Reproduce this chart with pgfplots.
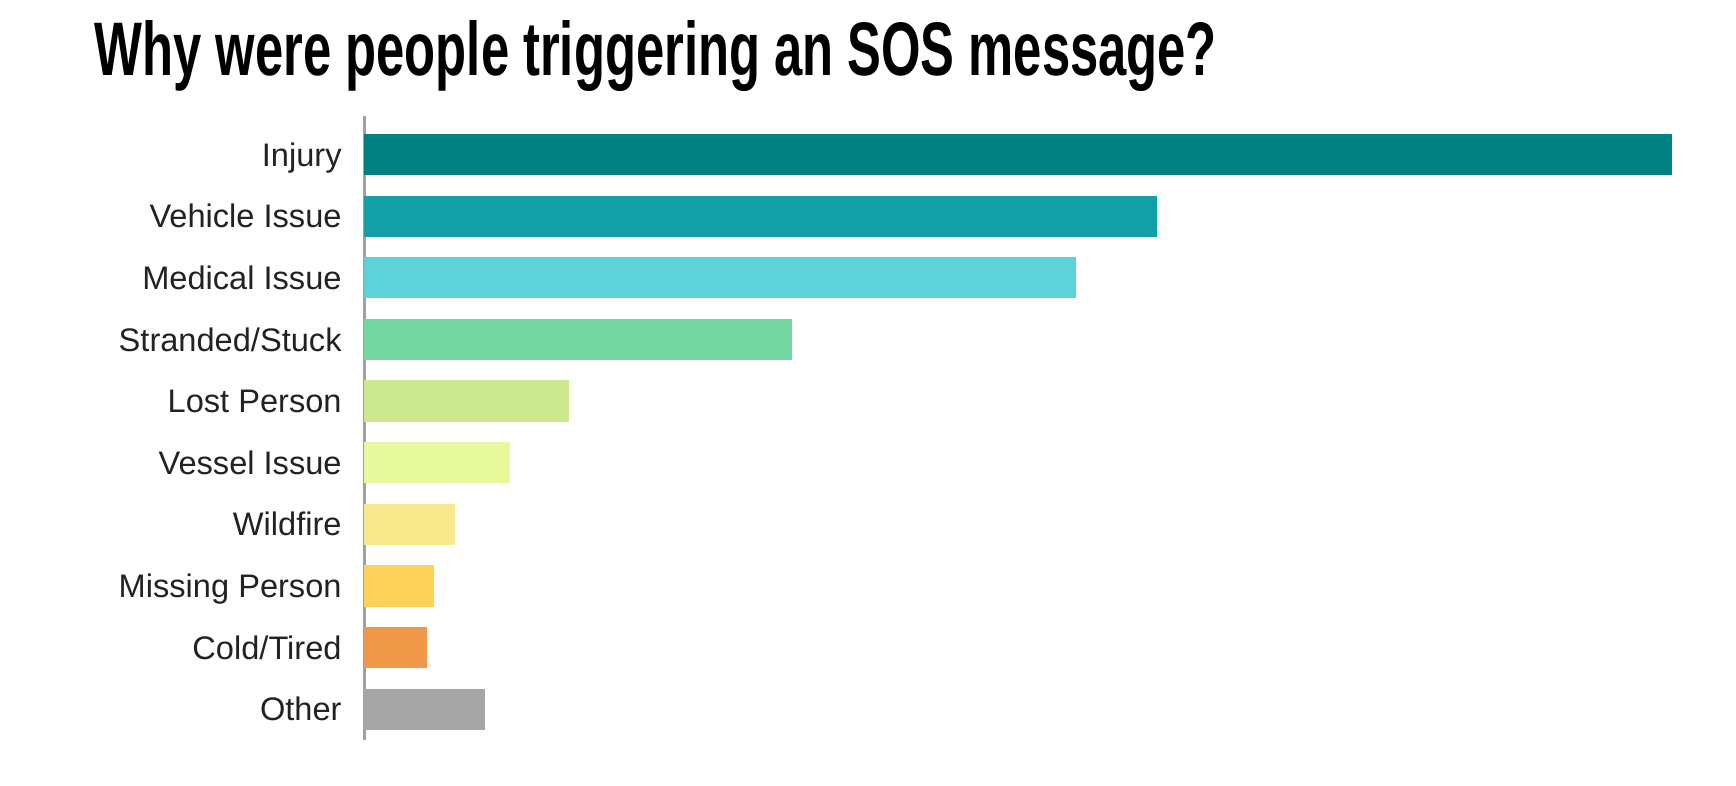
\documentclass[border=0pt]{standalone}
\usepackage{pgfplots}
\pgfplotsset{compat=1.18}
\usepackage{fontspec}
\setmainfont{Liberation Sans}
\definecolor{cInj}{HTML}{008080}
\definecolor{cVeh}{HTML}{12A0A6}
\definecolor{cMed}{HTML}{5DD3D9}
\definecolor{cStr}{HTML}{74D6A0}
\definecolor{cLost}{HTML}{CDE98F}
\definecolor{cVes}{HTML}{E8F89C}
\definecolor{cWild}{HTML}{F9E98C}
\definecolor{cMiss}{HTML}{FDD258}
\definecolor{cCold}{HTML}{EF9848}
\definecolor{cOth}{HTML}{A6A6A6}
\definecolor{axgray}{HTML}{A0A0A0}
\definecolor{lbl}{HTML}{222222}
\begin{document}
\begin{tikzpicture}
\useasboundingbox (0,0) rectangle (868bp,393bp);
\node[anchor=base west, inner sep=0pt] at (47.2bp,355bp)
  {\resizebox{561bp}{27.5bp}{\bfseries Why were people triggering an SOS message?}};
\begin{axis}[
  at={(182bp,23bp)}, anchor=south west,
  scale only axis, width=665bp, height=312bp,
  xbar, bar shift=0pt, bar width=0.67,
  xmin=0, xmax=1330, ymin=-0.625, ymax=9.5, y dir=reverse,
  axis x line=none, axis y line*=left,
  y axis line style={draw=axgray, line width=1.5bp},
  ytick={0,...,9},
  yticklabels={Injury,Vehicle Issue,Medical Issue,Stranded/Stuck,Lost Person,Vessel Issue,Wildfire,Missing Person,Cold/Tired,Other},
  major tick length=0pt,
  yticklabel style={font=\fontsize{16.3bp}{18bp}\selectfont, text=lbl, inner sep=0pt, anchor=east, text height=11.6bp, text depth=0pt, xshift=-11bp},
  clip=false,
]
\addplot[fill=cInj, draw=none] coordinates {(1308,0)};
\addplot[fill=cVeh, draw=none] coordinates {(793,1)};
\addplot[fill=cMed, draw=none] coordinates {(712,2)};
\addplot[fill=cStr, draw=none] coordinates {(428,3)};
\addplot[fill=cLost, draw=none] coordinates {(205,4)};
\addplot[fill=cVes, draw=none] coordinates {(146,5)};
\addplot[fill=cWild, draw=none] coordinates {(91,6)};
\addplot[fill=cMiss, draw=none] coordinates {(70,7)};
\addplot[fill=cCold, draw=none] coordinates {(63,8)};
\addplot[fill=cOth, draw=none] coordinates {(121,9)};
\end{axis}
\end{tikzpicture}
\end{document}
